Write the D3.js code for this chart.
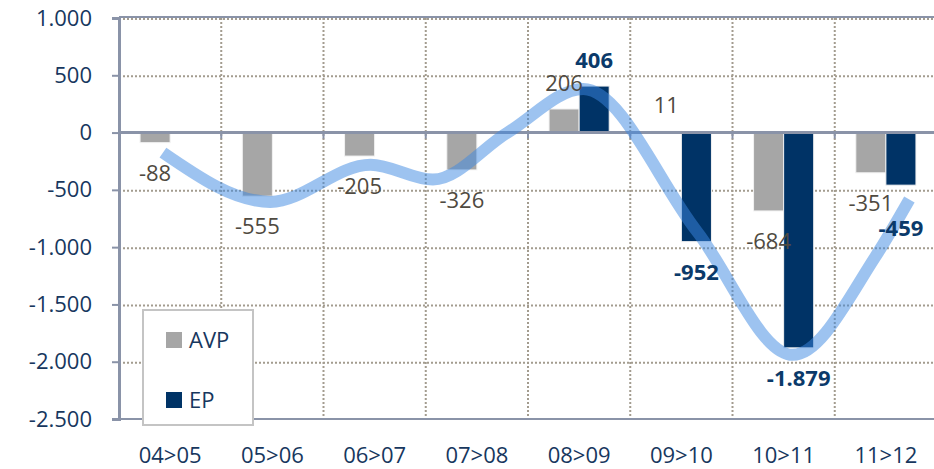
<!DOCTYPE html>
<html>
<head>
<meta charset="utf-8">
<script src="https://cdn.jsdelivr.net/npm/d3@7"></script>
<style>
  body { margin: 0; background: #fff; }
  text { font-family: "Open Sans", sans-serif; }
</style>
</head>
<body>
<div class="chart"></div>
<script>
// data
var categories = ["04>05", "05>06", "06>07", "07>08", "08>09", "09>10", "10>11", "11>12"];
var avp = [-88, -555, -205, -326, 206, 11, -684, -351];
var ep = [null, null, null, null, 406, -952, -1879, -459];
var yTicks = [1000, 500, 0, -500, -1000, -1500, -2000, -2500];
// trend curve, x in category units (0 = first category centre)
var trendPos = [-0.07, 0.98, 1.96, 2.57, 3.3, 4.04, 5.15, 6.09, 6.9, 7.23];
var trendVal = [-175, -605, -280, -410, 0, 380, -860, -1940, -1080, -585];

var width = 934, height = 469,
    margin = { top: 18, right: -3, bottom: 50, left: 119 };

var navy = "#003366", grey = "#a6a6a6", axisCol = "#8a93a8", txtNavy = "#17375e";
var fmt = d3.formatLocale({ decimal: ",", thousands: ".", grouping: [3], currency: ["", ""], minus: "-" }).format(",d");

var svg = d3.select(".chart").append("svg")
    .attr("width", width).attr("height", height);

var x = d3.scaleBand()
    .domain(categories)
    .range([margin.left, width - margin.right]);

var xs = d3.scaleBand()
    .domain(["AVP", "EP"])
    .range([0, x.bandwidth()])
    .paddingOuter(0.7);

var y = d3.scaleLinear()
    .domain([-2500, 1000])
    .range([height - margin.bottom, margin.top]);

var xi = d3.scaleLinear()
    .domain([0, 1])
    .range([x(categories[0]) + x.bandwidth() / 2, x(categories[1]) + x.bandwidth() / 2]);

// grid
svg.append("g")
    .attr("stroke", "#a39c8f").attr("stroke-width", 2).attr("stroke-dasharray", "2,2")
    .selectAll("line.h")
    .data(yTicks.filter(d => d !== 0 && d !== -2500))
    .join("line")
    .attr("x1", margin.left).attr("x2", width)
    .attr("y1", d => y(d) + 1).attr("y2", d => y(d) + 1);

svg.append("g")
    .attr("stroke", "#a39c8f").attr("stroke-width", 2).attr("stroke-dasharray", "2,2")
    .selectAll("line")
    .data(categories.slice(1))
    .join("line")
    .attr("x1", d => x(d)).attr("x2", d => x(d))
    .attr("y1", y(1000)).attr("y2", y(-2500));

// frame top / bottom
svg.append("line")
    .attr("x1", margin.left).attr("x2", width)
    .attr("y1", y(1000) - 1).attr("y2", y(1000) - 1)
    .attr("stroke", axisCol).attr("stroke-width", 2);
svg.append("line")
    .attr("x1", margin.left).attr("x2", width)
    .attr("y1", y(-2500)).attr("y2", y(-2500))
    .attr("stroke", axisCol).attr("stroke-width", 2);

// bars
var epData = ep.map((v, i) => ({ v: v, c: categories[i], a: avp[i] })).filter(d => d.v !== null);
var bars = svg.append("g").attr("stroke", "#f2f2f2").attr("stroke-width", 1);
bars.selectAll("rect.avp")
    .data(avp)
    .join("rect")
    .attr("x", (d, i) => x(categories[i]) + xs("AVP"))
    .attr("width", xs.bandwidth())
    .attr("y", d => y(Math.max(0, d)))
    .attr("height", d => Math.abs(y(d) - y(0)))
    .attr("fill", grey);

bars.selectAll("rect.ep")
    .data(epData)
    .join("rect")
    .attr("class", "ep")
    .attr("x", d => x(d.c) + xs("EP"))
    .attr("width", xs.bandwidth())
    .attr("y", d => y(Math.max(0, d.v)))
    .attr("height", d => Math.abs(y(d.v) - y(0)))
    .attr("fill", navy);

// zero line + ticks
svg.append("line")
    .attr("x1", margin.left).attr("x2", width)
    .attr("y1", y(0)).attr("y2", y(0))
    .attr("stroke", axisCol).attr("stroke-width", 3);
svg.append("g")
    .selectAll("line")
    .data(categories.slice(1))
    .join("line")
    .attr("x1", d => x(d)).attr("x2", d => x(d))
    .attr("y1", y(0)).attr("y2", y(0) + 6)
    .attr("stroke", axisCol).attr("stroke-width", 2);

// trend curve
var line = d3.line()
    .x(d => xi(d[0]))
    .y(d => y(d[1]))
    .curve(d3.curveMonotoneX);

svg.append("path")
    .attr("d", line(trendPos.map((p, i) => [p, trendVal[i]])))
    .attr("fill", "none")
    .attr("stroke", "rgb(59,135,225)")
    .attr("stroke-opacity", 0.5)
    .attr("stroke-width", 12);

// labels
var labelY = v => v >= 0 ? y(v) - 18 : y(v) + 38;

svg.append("g")
    .selectAll("text")
    .data(avp)
    .join("text")
    .attr("x", (d, i) => x(categories[i]) + xs("AVP") + xs.bandwidth() / 2)
    .attr("y", labelY)
    .attr("text-anchor", "middle")
    .attr("font-size", 22)
    .attr("fill", "#4f4a41")
    .text(d => fmt(d));

svg.append("g")
    .selectAll("text")
    .data(epData)
    .join("text")
    .attr("x", d => x(d.c) + xs("EP") + xs.bandwidth() / 2)
    .attr("y", d => {
        // push down if it would sit on the AVP label next to it
        var ly = labelY(d.v), la = labelY(d.a);
        return Math.abs(ly - la) < 20 ? la + 25 : ly;
    })
    .attr("text-anchor", "middle")
    .attr("font-size", 22)
    .attr("font-weight", "bold")
    .attr("fill", "#0b3a6a")
    .text(d => fmt(d.v));

// y axis
svg.append("g")
    .attr("transform", `translate(${margin.left},0)`)
    .call(d3.axisLeft(y).tickValues(yTicks).tickSize(7).tickPadding(20).tickFormat(fmt))
    .call(g => g.select(".domain").attr("stroke", axisCol).attr("stroke-width", 3))
    .call(g => g.selectAll(".tick line").attr("stroke", axisCol).attr("stroke-width", 2))
    .call(g => g.selectAll(".tick text")
        .attr("font-family", "Open Sans, sans-serif")
        .attr("font-size", 22).attr("fill", txtNavy));

// x labels
svg.append("g")
    .selectAll("text")
    .data(categories)
    .join("text")
    .attr("x", d => x(d) + x.bandwidth() / 2)
    .attr("y", height - 6)
    .attr("text-anchor", "middle")
    .attr("font-size", 22)
    .attr("fill", txtNavy)
    .text(d => d);

// legend
var legend = svg.append("g").attr("transform", "translate(143,310)");
legend.append("rect")
    .attr("width", 110).attr("height", 115)
    .attr("fill", "#fff").attr("stroke", "#c4c4c4").attr("stroke-width", 2);
var items = [["AVP", grey], ["EP", navy]];
legend.selectAll("g")
    .data(items)
    .join("g")
    .attr("transform", (d, i) => `translate(23,${22 + i * 60})`)
    .call(g => g.append("rect").attr("width", 16).attr("height", 16).attr("fill", d => d[1]))
    .call(g => g.append("text").attr("x", 23).attr("y", 16)
        .attr("font-size", 22).attr("fill", txtNavy).text(d => d[0]));
</script>
</body>
</html>
